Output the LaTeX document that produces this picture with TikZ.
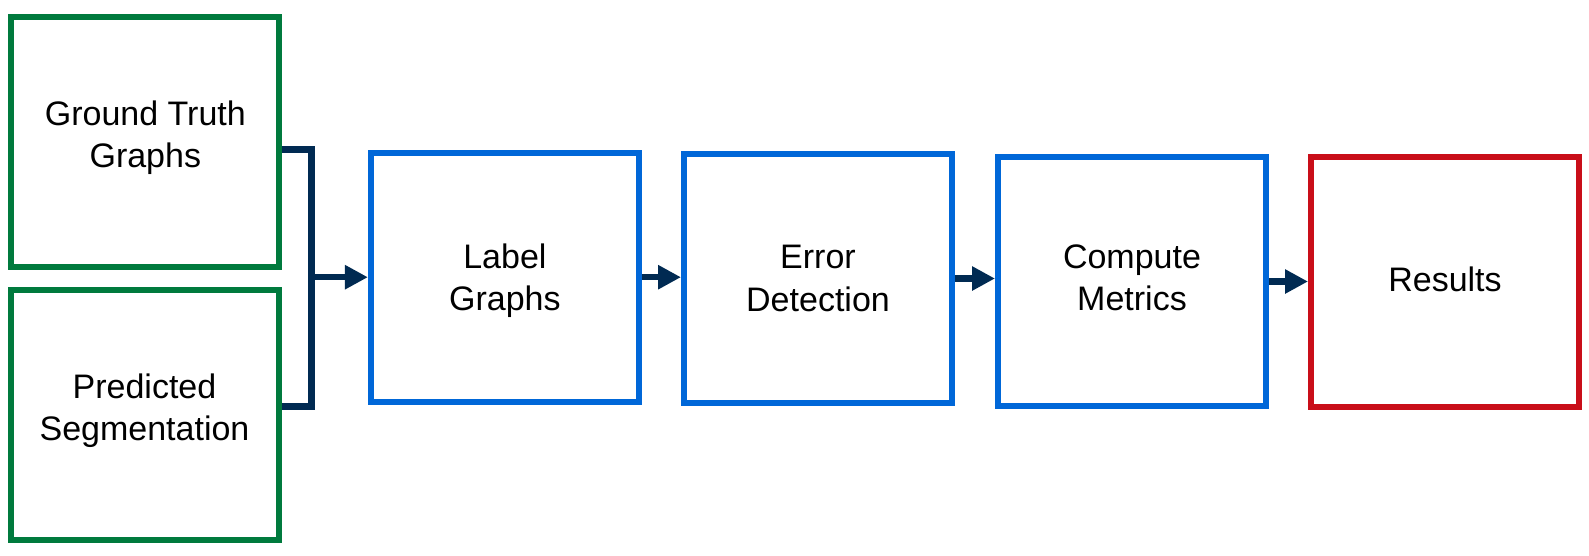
\documentclass[tikz,border=0pt]{standalone}
\usepackage{fontspec}
\setmainfont{Liberation Sans}
\usetikzlibrary{arrows.meta}
\definecolor{gtgreen}{HTML}{007A3D}
\definecolor{stepblue}{HTML}{0067D8}
\definecolor{resred}{HTML}{C90E19}
\definecolor{linknavy}{HTML}{002A52}
\begin{document}
\begin{tikzpicture}[
		x=1pt, y=-1pt,
		box/.style={draw, rectangle, line width=6pt, minimum width=268pt, minimum height=249pt,
			align=center, font=\fontsize{34}{42.5}\selectfont},
		inbox/.style={box, draw=gtgreen, minimum height=250pt, text depth=15pt},
		stepbox/.style={box, draw=stepblue},
		outbox/.style={box, draw=resred, minimum height=250pt, text depth=6pt},
		link/.style={draw=linknavy, line width=6.5pt},
		arrow/.style={link, -{Triangle[length=23pt, width=23pt]}}
	]
	\useasboundingbox (0,0) rectangle (1589,555);

	% Nodes
	\node[inbox] (gt) at (145.3,141.6) {Ground Truth\\Graphs};
	\node[inbox] (pred) at (144.5,414.7) {Predicted\\Segmentation};
	\node[stepbox, text depth=0pt] (label) at (504.9,277.2) {Label\\Graphs};
	\node[stepbox] (error) at (818,278.5) {Error\\Detection};
	\node[stepbox, text depth=8pt] (compute) at (1132,281.5) {Compute\\Metrics};
	\node[outbox] (results) at (1445,282) {Results};

	% Connections
	\coordinate (join) at (311.7,277.2);
	\draw[link] ([yshift=-8pt]gt.east) -| (join);
	\draw[link] ([yshift=8pt]pred.east) -| (join);
	\draw[arrow] (join) -- (label.west);
	\draw[arrow] (label.east) -- (label.east -| error.west);
	\draw[arrow] (error.east) -- (error.east -| compute.west);
	\draw[arrow] (compute.east) -- (compute.east -| results.west);
\end{tikzpicture}
\end{document}
